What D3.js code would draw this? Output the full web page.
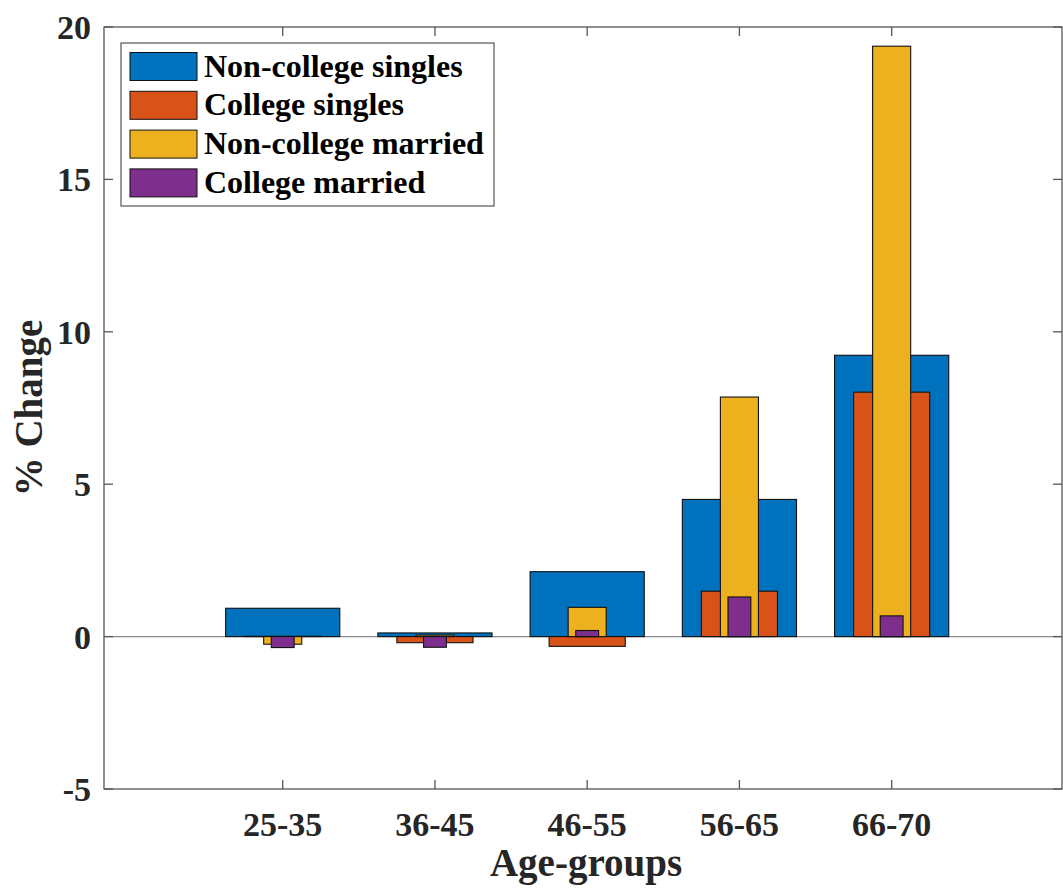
<!DOCTYPE html>
<head>
  <meta charset="utf-8">
  <script src="https://d3js.org/d3.v7.min.js"></script>
</head>
<body>
  <div id="chart"></div>

  <script>
    // age groups on the x axis
    var ageGroups = ['25-35', '36-45', '46-55', '56-65', '66-70'];

    // series (% change)
    var seriesNames = ['Non-college singles', 'College singles', 'Non-college married', 'College married'];
    var nonCollegeSingles  = [0.93, 0.12, 2.13, 4.50, 9.23];
    var collegeSingles     = [0.01, -0.20, -0.32, 1.49, 8.02];
    var nonCollegeMarried  = [-0.25, 0.05, 0.96, 7.86, 19.37];
    var collegeMarried     = [-0.36, -0.35, 0.20, 1.30, 0.68];

    var yTicks = [-5, 0, 5, 10, 15, 20];

    var width = 1063;
    var height = 894;

    // plot box in pixels ("top" is reserved on window, so prefix them)
    var plotLeft = 104, plotRight = 1062, plotTop = 27, plotBottom = 789;

    // MATLAB default colours
    var colors = ['#0072BD', '#D95319', '#EDB120', '#7E2F8E'];
    // overlapping bar widths (in category units), widest drawn first
    var barWidths = [0.75, 0.5, 0.25, 0.15];

    var allSeries = [nonCollegeSingles, collegeSingles, nonCollegeMarried, collegeMarried];

    var font = "'Liberation Serif', 'Times New Roman', serif";
    var textColor = '#262626';
    var axisColor = '#555';

    var x = d3.scaleLinear().domain([-0.174, 6.119]).range([plotLeft, plotRight]);
    var y = d3.scaleLinear().domain([-5, 20]).range([plotBottom, plotTop]);

    var svg = d3.select('#chart')
      .append('svg')
        .attr('width', width)
        .attr('height', height)
        .style('display', 'block')
        .style('background', '#fff');

    // zero baseline
    svg.append('line')
      .attr('x1', plotLeft).attr('x2', plotRight)
      .attr('y1', y(0)).attr('y2', y(0))
      .attr('stroke', '#8c8c8c')
      .attr('stroke-width', 1.2);

    // bars, one group per series
    allSeries.forEach(function(vals, s) {
      svg.append('g')
        .selectAll('rect')
        .data(vals)
        .join('rect')
          .attr('x', (d, i) => x(i + 1 - barWidths[s] / 2))
          .attr('width', x(barWidths[s]) - x(0))
          .attr('y', d => y(Math.max(0, d)))
          .attr('height', d => Math.abs(y(d) - y(0)))
          .attr('fill', colors[s])
          .attr('stroke', '#111')
          .attr('stroke-width', 1.1);
    });

    // axis box
    svg.append('rect')
      .attr('x', plotLeft).attr('y', plotTop)
      .attr('width', plotRight - plotLeft).attr('height', plotBottom - plotTop)
      .attr('fill', 'none')
      .attr('stroke', axisColor)
      .attr('stroke-width', 1.3);

    var tickLen = 9;

    // y ticks, both sides, pointing in
    var yt = svg.append('g');
    yTicks.forEach(function(t) {
      yt.append('line')
        .attr('x1', plotLeft).attr('x2', plotLeft + tickLen)
        .attr('y1', y(t)).attr('y2', y(t))
        .attr('stroke', axisColor).attr('stroke-width', 1.3);
      yt.append('line')
        .attr('x1', plotRight).attr('x2', plotRight - tickLen)
        .attr('y1', y(t)).attr('y2', y(t))
        .attr('stroke', axisColor).attr('stroke-width', 1.3);
      yt.append('text')
        .attr('x', plotLeft - 13)
        .attr('y', y(t))
        .attr('dy', '0.35em')
        .attr('text-anchor', 'end')
        .attr('font-family', font)
        .attr('font-weight', 'bold')
        .attr('font-size', 34)
        .attr('fill', textColor)
        .text(t);
    });

    // x ticks, top and bottom, pointing in
    var xt = svg.append('g');
    ageGroups.forEach(function(g, i) {
      var px = x(i + 1);
      xt.append('line')
        .attr('x1', px).attr('x2', px)
        .attr('y1', plotBottom).attr('y2', plotBottom - tickLen)
        .attr('stroke', axisColor).attr('stroke-width', 1.3);
      xt.append('line')
        .attr('x1', px).attr('x2', px)
        .attr('y1', plotTop).attr('y2', plotTop + tickLen)
        .attr('stroke', axisColor).attr('stroke-width', 1.3);
      xt.append('text')
        .attr('x', px)
        .attr('y', plotBottom + 47)
        .attr('text-anchor', 'middle')
        .attr('font-family', font)
        .attr('font-weight', 'bold')
        .attr('font-size', 34)
        .attr('fill', textColor)
        .text(g);
    });

    // axis labels
    svg.append('text')
      .attr('x', (plotLeft + plotRight) / 2 + 3)
      .attr('y', 876)
      .attr('text-anchor', 'middle')
      .attr('font-family', font)
      .attr('font-weight', 'bold')
      .attr('font-size', 39)
      .attr('fill', textColor)
      .text('Age-groups');

    svg.append('text')
      .attr('transform', 'translate(42,' + ((plotTop + plotBottom) / 2) + ') rotate(-90)')
      .attr('text-anchor', 'middle')
      .attr('font-family', font)
      .attr('font-weight', 'bold')
      .attr('font-size', 39)
      .attr('fill', textColor)
      .text('% Change');

    // legend
    var legend = svg.append('g');
    legend.append('rect')
      .attr('x', 121).attr('y', 43)
      .attr('width', 373).attr('height', 163)
      .attr('fill', '#fff')
      .attr('stroke', axisColor)
      .attr('stroke-width', 1.2);

    seriesNames.forEach(function(name, i) {
      var cy = 66.5 + i * 38.8;
      legend.append('rect')
        .attr('x', 130).attr('y', cy - 14)
        .attr('width', 67).attr('height', 28)
        .attr('fill', colors[i])
        .attr('stroke', '#111')
        .attr('stroke-width', 1);
      legend.append('text')
        .attr('x', 204)
        .attr('y', cy + 10)
        .attr('font-family', font)
        .attr('font-weight', 'bold')
        .attr('font-size', 32)
        .attr('fill', '#000')
        .text(name);
    });
  </script>
</body>
<style>
  body { margin: 0; background: #fff; }
</style>
